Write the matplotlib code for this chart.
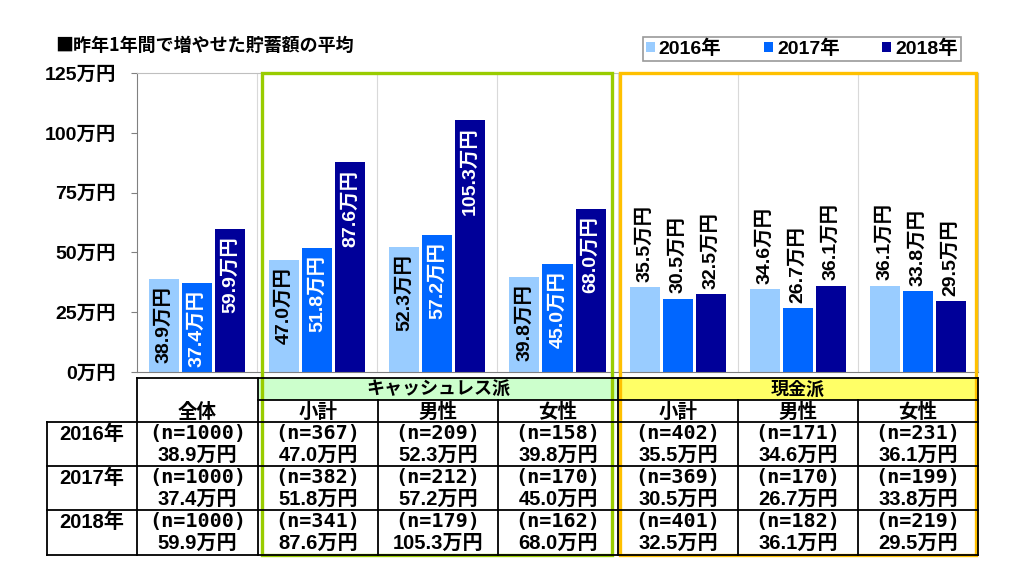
import matplotlib
matplotlib.use("Agg")
import matplotlib.pyplot as plt
from matplotlib.patches import Rectangle
import numpy as np

plt.rcParams['font.family'] = ['Liberation Sans', 'Noto Sans CJK JP', 'DejaVu Sans']
plt.rcParams['font.weight'] = 'bold'
MONO = ['DejaVu Sans Mono', 'Noto Sans CJK JP', 'DejaVu Sans']
CJK = ['Noto Sans CJK JP', 'DejaVu Sans']

title = '■昨年1年間で増やせた貯蓄額の平均'
years = ['2016年', '2017年', '2018年']
groups = ['全体', '小計', '男性', '女性', '小計', '男性', '女性']
segments = ['キャッシュレス派', '現金派']
v2016 = [38.9, 47.0, 52.3, 39.8, 35.5, 34.6, 36.1]
v2017 = [37.4, 51.8, 57.2, 45.0, 30.5, 26.7, 33.8]
v2018 = [59.9, 87.6, 105.3, 68.0, 32.5, 36.1, 29.5]
n2016 = [1000, 367, 209, 158, 402, 171, 231]
n2017 = [1000, 382, 212, 170, 369, 170, 199]
n2018 = [1000, 341, 179, 162, 401, 182, 219]
yticks = [0, 25, 50, 75, 100, 125]

values = [v2016, v2017, v2018]
ns = [n2016, n2017, n2018]
colors = ['#99CCFF', '#0066FF', '#000099']
label_colors = ['black', 'white', 'white']

W, H = 1024, 574
fig = plt.figure(figsize=(W / 100, H / 100), dpi=100)

# plot area in pixels
x0, x1, ytop, ybot = 137, 978, 73, 372
ax = fig.add_axes([x0 / W, 1 - ybot / H, (x1 - x0) / W, (ybot - ytop) / H])
ax.set_xlim(-0.5, len(groups) - 0.5)
ax.set_ylim(0, 125)
ax.set_yticks(yticks)
ax.set_yticklabels([f'{t}万円' for t in yticks], fontsize=14, fontweight='bold')
ax.set_xticks([])
ax.tick_params(axis='y', length=4, color='#808080', pad=11)
for s in ['left', 'bottom']:
    ax.spines[s].set_color('#808080')
for s in ['top', 'right']:
    ax.spines[s].set_color('#BFBFBF')
for b in np.arange(0.5, len(groups) - 0.5, 1):
    ax.axvline(b, color='#D9D9D9', lw=0.8, zorder=0)

x = np.arange(len(groups))
width = 0.25
step = 0.275
for k, (vals, c, lc, yr) in enumerate(zip(values, colors, label_colors, years)):
    pos = x + (k - 1) * step
    bars = ax.bar(pos, vals, width, color=c, label=yr, zorder=2)
    for i, (rect, v) in enumerate(zip(bars, vals)):
        cx = rect.get_x() + rect.get_width() / 2
        txt = f'{v:.1f}万円'
        if i >= 4:
            ax.annotate(txt, (cx, v), xytext=(0, 4), textcoords='offset points',
                        rotation=90, ha='center', va='bottom', fontsize=14,
                        fontweight='bold', color='black')
        else:
            ax.annotate(txt, (cx, v), xytext=(0, -5), textcoords='offset points',
                        rotation=90, ha='center', va='top', fontsize=14,
                        fontweight='bold', color=lc, zorder=3)

# legend
handles, labels = ax.get_legend_handles_labels()
leg = fig.legend(handles, labels, ncol=3, loc='center',
                 bbox_to_anchor=(802 / W, 1 - 49 / H), frameon=True, fancybox=False,
                 edgecolor='#808080', fontsize=14, handlelength=0.45, handleheight=0.45,
                 handletextpad=0.2, columnspacing=2.2, borderpad=0.15,
                 borderaxespad=0)
leg.get_frame().set_linewidth(1.2)
for t in leg.get_texts():
    t.set_fontweight('bold')

# overlay in pixel coordinates for table and boxes
ov = fig.add_axes([0, 0, 1, 1], zorder=5)
ov.set_xlim(0, W)
ov.set_ylim(H, 0)
ov.axis('off')
ov.patch.set_alpha(0)

fig.text(55 / W, 1 - 45 / H, title, fontsize=13, fontweight='bold', va='center',
         ha='left', family=CJK)

colx = [137, 258, 378, 498, 618, 738, 858, 978]
rows = [378, 400, 422, 466, 510, 555]
lk = dict(color='black', lw=1.3)

# band fills
ov.add_patch(Rectangle((colx[1], rows[0]), colx[4] - colx[1], rows[1] - rows[0],
                       facecolor='#CCFFCC', edgecolor='none'))
ov.add_patch(Rectangle((colx[4], rows[0]), colx[7] - colx[4], rows[1] - rows[0],
                       facecolor='#FFFF66', edgecolor='none'))
ov.text((colx[1] + colx[4]) / 2, (rows[0] + rows[1]) / 2 + 1, segments[0],
        ha='center', va='center', fontsize=13, fontweight='bold')
ov.text((colx[4] + colx[7]) / 2, (rows[0] + rows[1]) / 2 + 1, segments[1],
        ha='center', va='center', fontsize=13, fontweight='bold')

# horizontal lines
ov.plot([colx[0], colx[-1]], [rows[0]] * 2, **lk)
ov.plot([colx[1], colx[-1]], [rows[1]] * 2, **lk)
for r in rows[2:]:
    ov.plot([47, colx[-1]], [r] * 2, **lk)
# vertical lines
ov.plot([47, 47], [rows[2], rows[-1]], **lk)
for c in [colx[0], colx[1], colx[4], colx[7]]:
    ov.plot([c, c], [rows[0], rows[-1]], **lk)
for c in [colx[2], colx[3], colx[5], colx[6]]:
    ov.plot([c, c], [rows[1], rows[-1]], **lk)

# header texts
for i in range(len(groups)):
    ov.text((colx[i] + colx[i + 1]) / 2, (rows[1] + rows[2]) / 2 + 1, groups[i],
            ha='center', va='center', fontsize=14, fontweight='bold')

for r, (yr, vals, nn) in enumerate(zip(years, values, ns)):
    ry = rows[2 + r]
    ov.text(92, ry + 12, yr, ha='center', va='center', fontsize=14.5, fontweight='bold')
    for i in range(len(groups)):
        cx = (colx[i] + colx[i + 1]) / 2
        ov.text(cx, ry + 12, f'(n={nn[i]})', ha='center', va='center',
                fontsize=14.5, fontweight='bold', family=MONO)
        ov.text(cx, ry + 33, f'{vals[i]:.1f}万円', ha='center', va='center',
                fontsize=14.5, fontweight='bold')

# colored outline boxes
ov.add_patch(Rectangle((262, 73), 612 - 262, 555 - 73, fill=False,
                       edgecolor='#99CC00', lw=2.4))
ov.add_patch(Rectangle((620, 73), 976 - 620, 555 - 73, fill=False,
                       edgecolor='#FFC000', lw=2.4))

fig.savefig('out.png', dpi=100)
